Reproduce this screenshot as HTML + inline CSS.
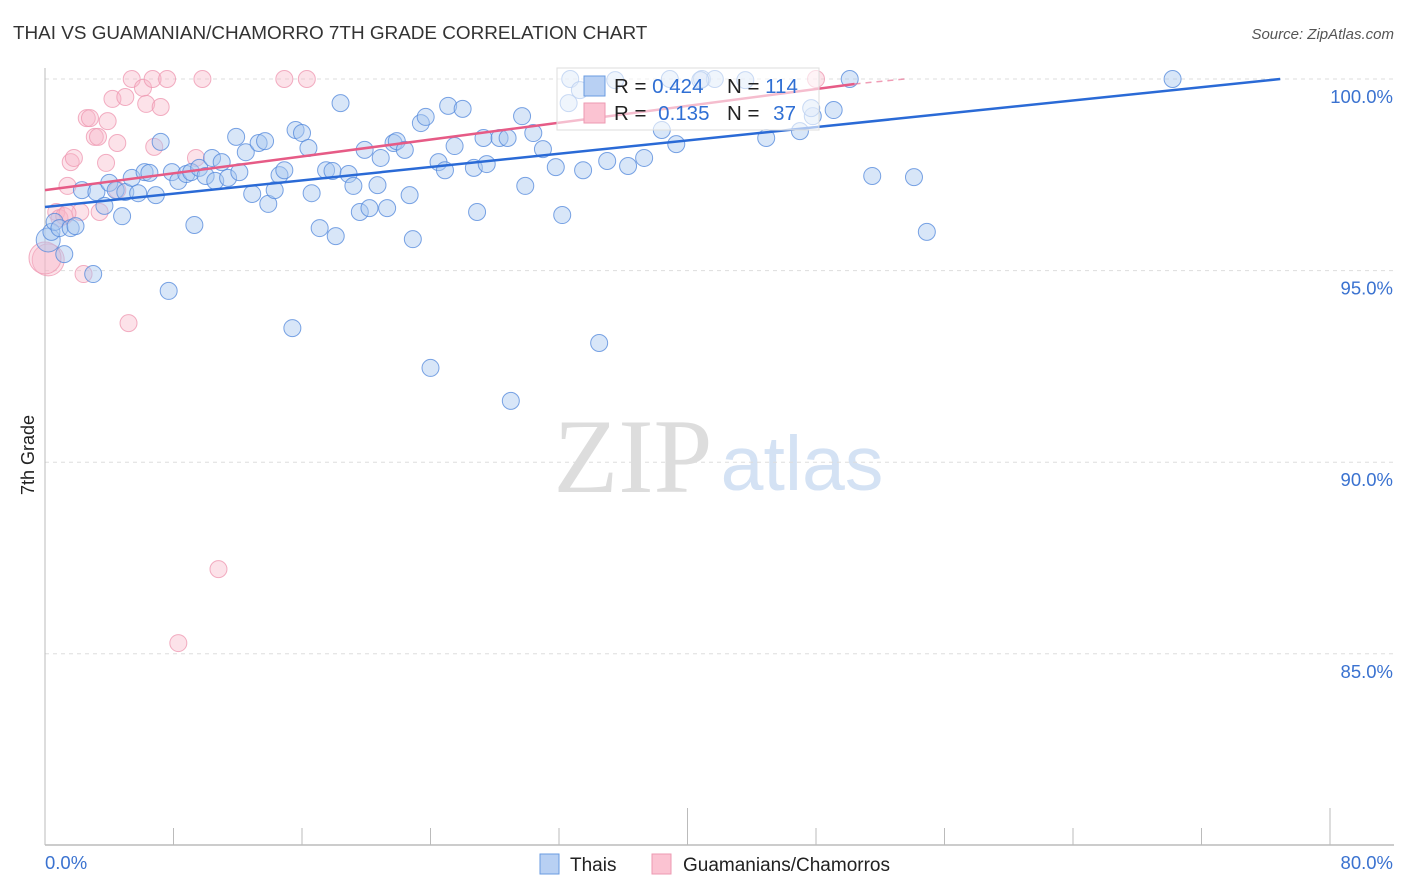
<!DOCTYPE html>
<html><head><meta charset="utf-8"><style>
body{margin:0;background:#fff;font-family:"Liberation Sans",sans-serif}
svg{display:block}
</style></head><body>
<svg id="chart" width="1406" height="892">
<text x="13" y="39" font-size="18.9" fill="#333">THAI VS GUAMANIAN/CHAMORRO 7TH GRADE CORRELATION CHART</text>
<text x="1394" y="39" font-size="15" fill="#555" font-style="italic" text-anchor="end">Source: ZipAtlas.com</text>
<text transform="translate(34,455) rotate(-90)" font-size="18" fill="#222" text-anchor="middle">7th Grade</text>
<text x="633" y="492" font-size="106" fill="#ddd" font-family="Liberation Serif,serif" text-anchor="middle">ZIP</text>
<text x="802" y="490" font-size="77" fill="#d4e2f4" text-anchor="middle">atlas</text>
<g id="grid"></g><g id="axes"></g><g id="pts"></g><g id="trend"></g>
<g>
<rect x="557" y="68" width="262" height="62" fill="#fff" fill-opacity="0.6" stroke="#ddd"/>
<rect x="584" y="76" width="21" height="20" fill="#b8d0f3" stroke="#6a9be0"/>
<rect x="584" y="103" width="21" height="20" fill="#fbc3d2" stroke="#ec9ab2"/>
<text x="614" y="93" font-size="20.5" fill="#222">R = <tspan fill="#2f6fd4">0.424</tspan></text>
<text x="727" y="93" font-size="20.5" fill="#222">N = <tspan fill="#2f6fd4">114</tspan></text>
<text x="614" y="120" font-size="20.5" fill="#222">R = <tspan fill="#2f6fd4" dx="6">0.135</tspan></text>
<text x="727" y="120" font-size="20.5" fill="#222">N = <tspan fill="#2f6fd4" dx="8">37</tspan></text>
</g>
<g>
<rect x="540" y="854" width="19" height="20" fill="#b8d0f3" stroke="#6a9be0"/>
<text x="570" y="871" font-size="19" fill="#222">Thais</text>
<rect x="652" y="854" width="19" height="20" fill="#fbc3d2" stroke="#ec9ab2"/>
<text x="683" y="871" font-size="19" fill="#222">Guamanians/Chamorros</text>
</g>
</svg>
<script>
const yTicks=[100,95,90,85];
const xTickVals=[0,8,16,24,32,40,48,56,64,72,80];
const blueX=[0.2,0.4,0.6,0.9,1.2,1.6,1.9,2.3,3.0,3.2,3.7,4.0,4.4,4.8,5.0,5.4,5.8,6.2,6.5,6.9,7.2,7.7,7.9,8.3,8.8,9.1,9.3,9.6,10.0,10.4,10.6,11.0,11.4,11.9,12.1,12.5,12.9,13.3,13.7,13.9,14.3,14.6,14.9,15.4,15.6,16.0,16.4,16.6,17.1,17.5,17.9,18.1,18.4,18.9,19.2,19.6,19.9,20.2,20.7,20.9,21.3,21.7,21.9,22.4,22.7,22.9,23.4,23.7,24.0,24.5,24.9,25.1,25.5,26.0,26.7,26.9,27.3,27.5,28.3,28.8,29.0,29.7,29.9,30.4,31.0,31.8,32.2,32.7,33.5,34.5,35.0,36.3,37.3,38.4,39.3,38.9,40.9,41.7,44.9,47.0,47.8,49.1,50.1,51.5,54.1,54.9,70.2,33.3,32.6,35.5,40.8,43.6,47.7];
const blueY=[95.80,96.01,96.27,96.11,95.43,96.11,96.16,97.10,94.91,97.05,96.69,97.29,97.10,96.42,97.05,97.42,97.02,97.57,97.55,96.97,98.36,94.47,97.57,97.34,97.52,97.57,96.19,97.68,97.47,97.94,97.34,97.83,97.42,98.49,97.57,98.09,97.00,98.33,98.38,96.74,97.10,97.49,97.62,93.50,98.67,98.59,98.20,97.02,96.11,97.62,97.60,95.90,99.37,97.52,97.21,96.53,98.15,96.63,97.23,97.94,96.63,98.33,98.38,98.15,96.97,95.82,98.85,99.01,92.46,97.83,97.62,99.30,98.25,99.22,97.68,96.53,98.46,97.78,98.46,98.46,91.60,99.03,97.21,98.59,98.17,97.70,96.45,100,97.62,93.11,97.86,97.73,97.94,98.67,98.30,100,100,100,98.46,98.64,99.03,99.19,100,97.47,97.44,96.01,100,99.71,99.37,99.97,99.97,99.97,99.24];
const pinkX=[0.2,0.7,0.9,1.2,1.4,1.6,1.8,2.2,2.4,2.6,2.8,3.1,3.3,3.4,3.8,3.9,4.2,4.5,4.5,5.0,5.2,5.4,6.1,6.3,6.7,6.8,7.2,7.6,8.3,9.4,9.8,10.8,14.9,16.3,48.0,0.0,1.4];
const pinkY=[95.28,96.53,96.37,96.42,97.21,97.83,97.94,96.53,94.91,98.98,98.98,98.49,98.49,96.53,97.81,98.90,99.48,98.33,97.10,99.53,93.63,100,99.77,99.35,100,98.23,99.27,100,85.28,97.94,100,87.21,100,100,100,95.33,96.50];
const blueTrend=[96.66,100,76.9];
const pinkTrend=[97.10,99.87,50.4,53.5];

const NS="http://www.w3.org/2000/svg";
const X=v=>45+v/80*1285, Y=v=>79+(100-v)/5*191.6;
function mk(t,a,p){const e=document.createElementNS(NS,t);for(const k in a)e.setAttribute(k,a[k]);p.appendChild(e);return e;}
const grid=document.getElementById('grid'),axes=document.getElementById('axes'),pts=document.getElementById('pts'),tr=document.getElementById('trend');
yTicks.forEach(v=>{
 const l=mk('line',{x1:45,x2:1394,y1:Y(v),y2:Y(v),stroke:'#ddd','stroke-dasharray':'4,4'},grid);
 
 
 const t=mk('text',{x:1393,y:Y(v)+24,'font-size':18.5,fill:'#3a72d0','text-anchor':'end'},grid);
 t.textContent=v.toFixed(1)+'%';
 
 
});
const ax=mk('line',{x1:45,x2:45,y1:68,y2:845,stroke:'#bbb'},axes);


const bx=mk('line',{x1:45,x2:1394,y1:845,y2:845,stroke:'#bbb','stroke-width':1.5},axes);


xTickVals.forEach(v=>{
 const tall=(v===40||v===80);
 const l=mk('line',{x1:X(v),x2:X(v),y1:tall?808:828,y2:845,stroke:'#bbb'},axes);
 
 
});
[[0,'start'],[80,'end']].forEach(([v,a])=>{
 const t=mk('text',{x:a==='start'?X(v):1393,y:869,'font-size':18.5,fill:'#3a72d0','text-anchor':a},axes);
 t.textContent=v.toFixed(1)+'%';
 
 
});
pinkX.forEach((x,i)=>{
 const big=i===0||i===35;
 const c=mk('circle',{cx:X(x),cy:Y(pinkY[i]),r:big?16:8.5,fill:'#f7b7c9','fill-opacity':0.4,stroke:'#ef9ab3','stroke-opacity':0.8},pts);
 
 
});
blueX.forEach((x,i)=>{
 const c=mk('circle',{cx:X(x),cy:Y(blueY[i]),r:i===0?12:8.5,fill:'#a9c7f0','fill-opacity':0.45,stroke:'#4f86db','stroke-opacity':0.75},pts);
 
 
});
const bl=mk('line',{x1:X(0),y1:Y(blueTrend[0]),x2:X(blueTrend[2]),y2:Y(blueTrend[1]),stroke:'#2a6ad6','stroke-width':2.5},tr);


const pl=mk('line',{x1:X(0),y1:Y(pinkTrend[0]),x2:X(pinkTrend[2]),y2:Y(pinkTrend[1]),stroke:'#e65b86','stroke-width':2.5},tr);


const pd=mk('line',{x1:X(pinkTrend[2]),y1:Y(pinkTrend[1]),x2:X(pinkTrend[3]),y2:Y(100),stroke:'#e65b86','stroke-width':1.5,'stroke-dasharray':'6,5','stroke-opacity':0.6},tr);


</script>
</body></html>
